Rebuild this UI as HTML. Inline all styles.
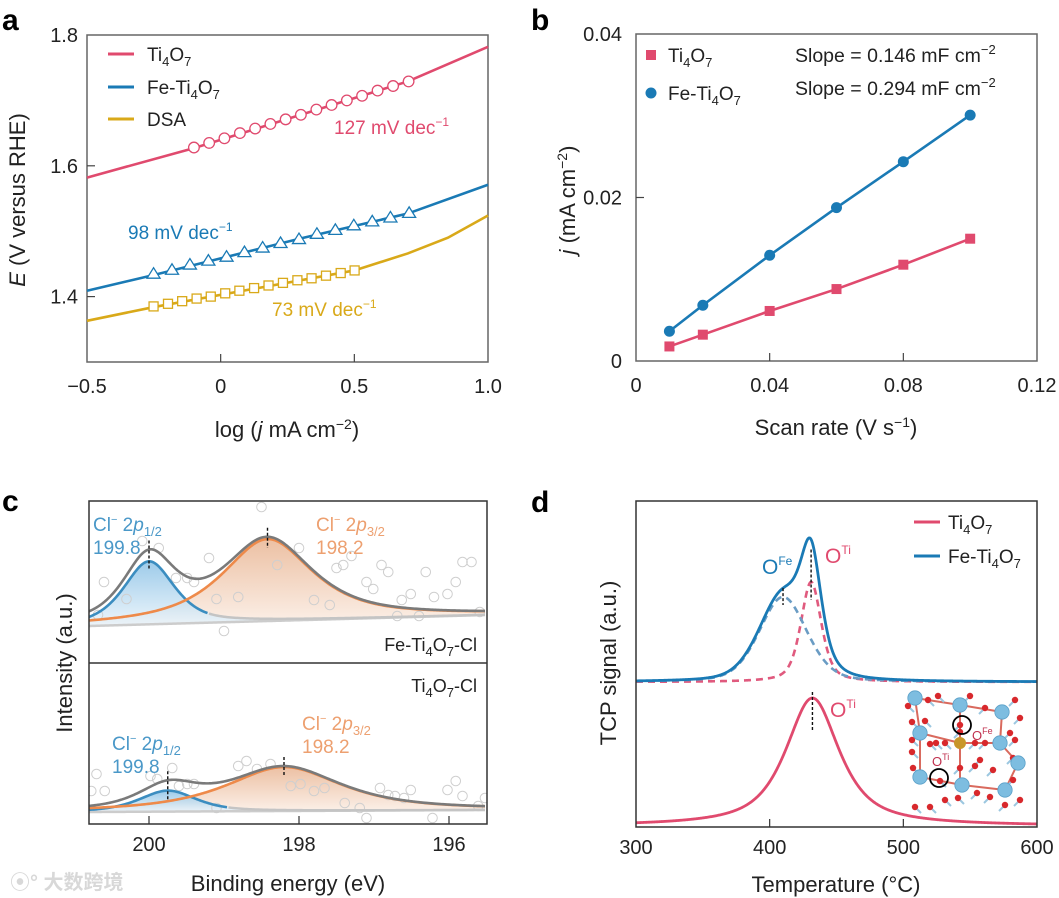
<!DOCTYPE html>
<html><head><meta charset="utf-8"><style>
html,body{margin:0;padding:0;background:#fff;}
svg{display:block;font-family:"Liberation Sans","Noto Sans CJK SC",sans-serif;}
</style></head><body>
<svg id="fig" width="1059" height="898" viewBox="0 0 1059 898" xmlns="http://www.w3.org/2000/svg">
<defs>
<linearGradient id="gBlue" x1="0" y1="0" x2="0" y2="1"><stop offset="0" stop-color="#8cc2e6"/><stop offset="1" stop-color="#eaf4fb"/></linearGradient>
<linearGradient id="gOr" x1="0" y1="0" x2="0" y2="1"><stop offset="0" stop-color="#e9b593"/><stop offset="1" stop-color="#fbeee5"/></linearGradient>
</defs>
<g id="root"></g>
</svg>
<script>
// ---------- Panel a data ----------
const aTiX=[-0.10,-0.043,0.014,0.072,0.129,0.186,0.243,0.300,0.358,0.415,0.472,0.529,0.587,0.645,0.703];
const aTiY=[1.628,1.635,1.642,1.650,1.657,1.664,1.671,1.678,1.686,1.693,1.700,1.707,1.715,1.722,1.729];
const aFeX=[-0.251,-0.182,-0.115,-0.046,0.022,0.089,0.157,0.224,0.293,0.360,0.429,0.498,0.567,0.635,0.705];
const aFeY=[1.435,1.441,1.449,1.455,1.461,1.468,1.475,1.482,1.488,1.496,1.502,1.509,1.515,1.521,1.528];
const aDsaX=[-0.251,-0.197,-0.144,-0.090,-0.037,0.017,0.070,0.125,0.179,0.233,0.287,0.340,0.394,0.449,0.501];
const aDsaY=[1.385,1.389,1.393,1.397,1.400,1.405,1.409,1.413,1.417,1.421,1.425,1.428,1.432,1.436,1.440];
const aTiFitX=[-0.5,-0.1,0.3,0.7,1.0], aTiFitY=[1.582,1.627,1.678,1.729,1.782];
const aFeFitX=[-0.5,-0.25,0.3,0.7,1.0], aFeFitY=[1.409,1.433,1.489,1.527,1.571];
const aDsaFitX=[-0.5,-0.25,0.5,0.7,0.85,1.0], aDsaFitY=[1.363,1.384,1.440,1.466,1.490,1.524];
const aXTicks=[-0.5,0,0.5,1.0], aXTickLabels=["\u22120.5","0","0.5","1.0"];
const aYTicks=[1.8,1.6,1.4], aYTickLabels=["1.8","1.6","1.4"];
// ---------- Panel b data ----------
const bX=[0.01,0.02,0.04,0.06,0.08,0.10];
const bTi=[0.00178,0.00322,0.00612,0.0088,0.01178,0.01496];
const bFe=[0.00364,0.00682,0.01293,0.01876,0.02438,0.03008];
const bXTicks=[0,0.04,0.08,0.12], bXTickLabels=["0","0.04","0.08","0.12"];
const bYTicks=[0,0.02,0.04], bYTickLabels=["0","0.02","0.04"];
// ---------- Panel c data ----------
const cTopBg=[37,48];
const cTopCenters=[200.0,198.42], cTopHeights=[63,82], cTopWidths=[0.4,0.72], cTopEta=[0.6,0.8];
const cBotBg=[12,14];
const cBotCenters=[199.75,198.2], cBotHeights=[21,44], cBotWidths=[0.45,0.92], cBotEta=[0.6,0.8];
const cTopPtsX=[200.60,200.30,200.68,200.09,199.87,199.64,199.49,199.40,199.20,199.10,198.81,199.00,198.50,198.29,198.00,197.80,197.59,197.50,197.41,197.30,197.10,197.01,196.90,196.81,196.63,196.51,196.31,196.20,196.02,195.91,195.82,195.70,195.59,196.69,196.40];
const cTopPtsY=[81,64,48,122,115,85,85,81,105,64,66,32,156,98,115,63,58,95,98,107,81,74,98,91,63,69,91,66,69,81,101,101,51,47,47];
const cBotPtsX=[200.70,200.77,200.59,199.98,199.89,199.69,199.60,199.49,199.40,199.10,198.81,198.70,198.56,198.38,198.11,197.98,197.80,197.66,197.39,197.19,197.10,196.92,196.81,196.72,196.60,196.51,196.22,196.02,195.91,195.82,195.61,195.52];
const cBotPtsY=[50,33,33,48,45,56,38,40,40,16,58,63,55,60,38,40,33,36,21,16,6,36,29,28,26,34,6,34,43,28,18,26];
const cXTicks=[200,198,196], cXTickLabels=["200","198","196"];
// ---------- Panel d data ----------
const dFeCenters=[410,431], dFeHeights=[85,100], dFeWidths=[21,9], dFeEta=[0.3,0.5];
const dTiCenter=[432], dTiHeight=[128], dTiWidth=[24], dTiEta=[0.8];
const dXTicks=[300,400,500,600], dXTickLabels=["300","400","500","600"];

// ---------- helpers ----------
const NS="http://www.w3.org/2000/svg";
const root=document.getElementById('root');
function mk(tag,attrs,parent){const e=document.createElementNS(NS,tag);for(const k in attrs)e.setAttribute(k,attrs[k]);(parent||root).appendChild(e);return e;}
function lin(d0,d1,p0,p1){return v=>p0+(v-d0)/(d1-d0)*(p1-p0);}
function pv(x,c,w,eta){const u=(x-c)/w;return eta/(1+u*u)+(1-eta)*Math.exp(-Math.LN2*u*u);}
function pathD(xs,ys){return xs.map((x,i)=>(i?'L':'M')+x.toFixed(2)+','+ys[i].toFixed(2)).join(' ');}
function txt(x,y,s,opt){opt=opt||{};const t=mk('text',{x:x,y:y,'font-size':opt.size||19,fill:opt.fill||'#222','text-anchor':opt.anchor||'start'});if(opt.weight)t.setAttribute('font-weight',opt.weight);if(opt.rot)t.setAttribute('transform','rotate(-90 '+x+' '+y+')');if(opt.html)t.innerHTML=s;else t.textContent=s;return t;}

// ========== Panel a ==========
const ax=lin(-0.5,1.0,87,488), ay=lin(1.3,1.8,362,35);
let t=txt(2,30,'a',{size:30,weight:'bold',fill:'#000'});
mk('rect',{x:87,y:35,width:401,height:327,fill:'none',stroke:'#666','stroke-width':1.5});
aXTicks.forEach((v,i)=>{if(i>0&&i<aXTicks.length-1)mk('line',{x1:ax(v),x2:ax(v),y1:362,y2:354,stroke:'#444','stroke-width':1.2});
 const l=txt(ax(v),393,aXTickLabels[i],{size:20,anchor:'middle'});});
aYTicks.forEach((v,i)=>{if(i>0)mk('line',{x1:87,x2:95,y1:ay(v),y2:ay(v),stroke:'#444','stroke-width':1.2});
 const l=txt(78,ay(v)+7,aYTickLabels[i],{size:20,anchor:'end'});});
t=txt(287,437,'log (<tspan font-style="italic">j</tspan> mA cm<tspan dy="-8" font-size="14">\u22122</tspan><tspan dy="8">)</tspan>',{size:22,anchor:'middle',html:true});
t=txt(25,200,'<tspan font-style="italic">E</tspan> (V versus RHE)',{size:22,anchor:'middle',rot:true,html:true});
const aSeries=[[aTiFitX,aTiFitY,aTiX,aTiY,'#e04a6e','circle','ti4o7'],[aFeFitX,aFeFitY,aFeX,aFeY,'#1a7ab5','tri','fe-ti4o7'],[aDsaFitX,aDsaFitY,aDsaX,aDsaY,'#d9a919','sq','dsa']];
aSeries.forEach(s=>{
 const p=mk('path',{d:pathD(s[0].map(ax),s[1].map(ay)),fill:'none',stroke:s[4],'stroke-width':2.6});
 
 s[2].forEach((x,i)=>{const cx=ax(x),cy=ay(s[3][i]);let m;
  if(s[5]=='circle')m=mk('circle',{cx:cx,cy:cy,r:5.3,fill:'#fff',stroke:s[4],'stroke-width':1.3});
  else if(s[5]=='tri')m=mk('path',{d:`M${cx},${cy-6} L${cx+6.5},${cy+4.5} L${cx-6.5},${cy+4.5}Z`,fill:'#fff',stroke:s[4],'stroke-width':1.3});
  else m=mk('rect',{x:cx-4.5,y:cy-4.5,width:9,height:9,fill:'#fff',stroke:s[4],'stroke-width':1.3});
  });
});
[['#e04a6e','Ti<tspan dy="5" font-size="13">4</tspan><tspan dy="-5">O</tspan><tspan dy="5" font-size="13">7</tspan>',54],['#1a7ab5','Fe-Ti<tspan dy="5" font-size="13">4</tspan><tspan dy="-5">O</tspan><tspan dy="5" font-size="13">7</tspan>',87],['#d9a919','DSA',119]].forEach(l=>{
 const e=mk('line',{x1:108,x2:134,y1:l[2],y2:l[2],stroke:l[0],'stroke-width':3});
 const tt=txt(147,l[2]+7,l[1],{size:19,html:true});});
t=txt(334,134,'127 mV dec<tspan dy="-8" font-size="12">\u22121</tspan>',{size:19,fill:'#e04a6e',html:true});
t=txt(128,239,'98 mV dec<tspan dy="-8" font-size="12">\u22121</tspan>',{size:19,fill:'#1a7ab5',html:true});
t=txt(272,316,'73 mV dec<tspan dy="-8" font-size="12">\u22121</tspan>',{size:19,fill:'#d9a919',html:true});

// ========== Panel b ==========
const bx=lin(0,0.12,636,1037), by=lin(0,0.04,361,34);
t=txt(531,30,'b',{size:30,weight:'bold',fill:'#000'});
mk('rect',{x:636,y:34,width:401,height:327,fill:'none',stroke:'#666','stroke-width':1.5});
bXTicks.forEach((v,i)=>{if(i>0&&i<bXTicks.length-1)mk('line',{x1:bx(v),x2:bx(v),y1:361,y2:353,stroke:'#444','stroke-width':1.2});
 const l=txt(bx(v),392,bXTickLabels[i],{size:20,anchor:'middle'});});
bYTicks.forEach((v,i)=>{if(i==1)mk('line',{x1:636,x2:644,y1:by(v),y2:by(v),stroke:'#444','stroke-width':1.2});
 const l=txt(622,by(v)+7,bYTickLabels[i],{size:20,anchor:'end'});});
t=txt(836,435,'Scan rate (V s<tspan dy="-8" font-size="14">\u22121</tspan><tspan dy="8">)</tspan>',{size:22,anchor:'middle',html:true});
t=txt(575,200,'<tspan font-style="italic">j</tspan> (mA cm<tspan dy="-8" font-size="14">\u22122</tspan><tspan dy="8">)</tspan>',{size:22,anchor:'middle',rot:true,html:true});
[[bTi,'#e04a6e','sq','ti4o7'],[bFe,'#1a7ab5','circle','fe-ti4o7']].forEach(s=>{
 const p=mk('path',{d:pathD(bX.map(bx),s[0].map(by)),fill:'none',stroke:s[1],'stroke-width':2.6});
 
 bX.forEach((x,i)=>{const cx=bx(x),cy=by(s[0][i]);let m;
  if(s[2]=='sq')m=mk('rect',{x:cx-5,y:cy-5,width:10,height:10,fill:s[1]});else m=mk('circle',{cx:cx,cy:cy,r:5.5,fill:s[1]});
  });
});
let e=mk('rect',{x:646,y:50,width:10,height:10,fill:'#e04a6e'});
e=mk('circle',{cx:651,cy:93,r:5.5,fill:'#1a7ab5'});
t=txt(668,62,'Ti<tspan dy="5" font-size="13">4</tspan><tspan dy="-5">O</tspan><tspan dy="5" font-size="13">7</tspan>',{size:19,html:true});
t=txt(668,100,'Fe-Ti<tspan dy="5" font-size="13">4</tspan><tspan dy="-5">O</tspan><tspan dy="5" font-size="13">7</tspan>',{size:19,html:true});
t=txt(795,62,'Slope = 0.146 mF cm<tspan dy="-8" font-size="13">\u22122</tspan>',{size:19.5,html:true});
t=txt(795,95,'Slope = 0.294 mF cm<tspan dy="-8" font-size="13">\u22122</tspan>',{size:19.5,html:true});

// ========== Panel c ==========
const cx=lin(200,198,149,299);
const cXs=[];for(let v=200.8;v>=195.5;v-=0.02)cXs.push(v);
const cBottom=824;
function drawXps(bottom,bg,cen,hts,wid,eta,ptsX,ptsY,name){
 const cy=v=>bottom-v;
 const bgf=x=>bg[0]+(x-200.8)/(195.5-200.8)*(bg[1]-bg[0]);
 const comp=(k,x)=>hts[k]*pv(x,cen[k],wid[k],eta[k]);
 const px=cXs.map(cx);
 const base=cXs.map(x=>cy(bgf(x)));
 const blue=cXs.map(x=>cy(bgf(x)+comp(0,x)));
 const oran=cXs.map(x=>cy(bgf(x)+comp(1,x)));
 const env=cXs.map(x=>cy(bgf(x)+comp(0,x)+comp(1,x)));
 const rev=(a)=>a.map((y,i)=>[px[i],y]).reverse().map(p=>'L'+p[0].toFixed(2)+','+p[1].toFixed(2)).join(' ');
 let f=mk('path',{d:pathD(px,oran)+' '+rev(base)+'Z',fill:'url(#gOr)',opacity:0.85});
 f=mk('path',{d:pathD(px,blue)+' '+rev(base)+'Z',fill:'url(#gBlue)',opacity:0.85});
 ptsX.forEach((x,i)=>{const m=mk('circle',{cx:cx(x),cy:cy(ptsY[i]),r:4.8,fill:'none',stroke:'#cfcfcf','stroke-width':1});});
 let l=mk('path',{d:pathD(px,base),fill:'none',stroke:'#cccccc','stroke-width':2.5});
 l=mk('path',{d:pathD(px.filter((p,i)=>cXs[i]<cen[0]-0.8),blue.filter((p,i)=>cXs[i]<cen[0]-0.8)),fill:'none',stroke:'#c4c4c4','stroke-width':2.5});
 l=mk('path',{d:pathD(px.filter((p,i)=>cXs[i]>=cen[0]-0.8),blue.filter((p,i)=>cXs[i]>=cen[0]-0.8)),fill:'none',stroke:'#3b8dc0','stroke-width':2.6});
 l=mk('path',{d:pathD(px,oran),fill:'none',stroke:'#ee8a4a','stroke-width':2.6});
 l=mk('path',{d:pathD(px,env),fill:'none',stroke:'#7a7a7a','stroke-width':2.6});
 cen.forEach((c,k)=>{const yy=cy(bgf(c)+comp(0,c)+comp(1,c));const d=mk('line',{x1:cx(c),x2:cx(c),y1:yy-9,y2:cy(bgf(c)+comp(k,c))+9,stroke:'#111','stroke-width':1.4,'stroke-dasharray':'3,2'});});
}
drawXps(663,cTopBg,cTopCenters,cTopHeights,cTopWidths,cTopEta,cTopPtsX,cTopPtsY,'fe-ti4o7-cl');
drawXps(cBottom,cBotBg,cBotCenters,cBotHeights,cBotWidths,cBotEta,cBotPtsX,cBotPtsY,'ti4o7-cl');
mk('rect',{x:0,y:490,width:89,height:345,fill:'#fff'});mk('rect',{x:487,y:490,width:40,height:345,fill:'#fff'});mk('rect',{x:89,y:470,width:398,height:31,fill:'#fff'});
t=txt(2,511,'c',{size:30,weight:'bold',fill:'#000'});
mk('rect',{x:89,y:501,width:398,height:cBottom-501,fill:'none',stroke:'#333','stroke-width':1.5});
mk('line',{x1:89,x2:487,y1:663,y2:663,stroke:'#333','stroke-width':1.5});
cXTicks.forEach((v,i)=>{mk('line',{x1:cx(v),x2:cx(v),y1:cBottom,y2:cBottom-8,stroke:'#333','stroke-width':1.2});
 const l=txt(cx(v),851,cXTickLabels[i],{size:20,anchor:'middle'});});
t=txt(288,891,'Binding energy (eV)',{size:22,anchor:'middle'});
t=txt(72,663,'Intensity (a.u.)',{size:22,anchor:'middle',rot:true});
const clB='#4a98c8', clO='#eda070';
[[93,531,clB,'1/2','199.8'],[316,531,clO,'3/2','198.2'],[112,750,clB,'1/2','199.8'],[302,730,clO,'3/2','198.2']].forEach(a=>{
 const l=txt(a[0],a[1],'Cl<tspan dy="-8" font-size="11">\u2212</tspan><tspan dy="8"> 2</tspan><tspan font-style="italic">p</tspan><tspan dy="5" font-size="13">'+a[3]+'</tspan>',{size:19,fill:a[2],html:true});
 const n=txt(a[0],a[1]+23,a[4],{size:19,fill:a[2]});});
t=txt(477,651,'Fe-Ti<tspan dy="5" font-size="13">4</tspan><tspan dy="-5">O</tspan><tspan dy="5" font-size="13">7</tspan><tspan dy="-5">-Cl</tspan>',{size:18,anchor:'end',html:true});
t=txt(477,692,'Ti<tspan dy="5" font-size="13">4</tspan><tspan dy="-5">O</tspan><tspan dy="5" font-size="13">7</tspan><tspan dy="-5">-Cl</tspan>',{size:18,anchor:'end',html:true});
t=txt(10,889,'\u29bf\u00b0 大数跨境',{size:20,fill:'#d8d8d8',weight:'bold'});

// ========== Panel d ==========
const dx=lin(300,600,636,1037);
const dXs=[];for(let v=300;v<=600;v+=0.5)dXs.push(v);
t=txt(531,512,'d',{size:30,weight:'bold',fill:'#000'});
const topBase=682, botBase=826;
const fe0=x=>dFeHeights[0]*pv(x,dFeCenters[0],dFeWidths[0],dFeEta[0]);
const fe1=x=>dFeHeights[1]*pv(x,dFeCenters[1],dFeWidths[1],dFeEta[1]);
const ti=x=>dTiHeight[0]*pv(x,dTiCenter[0],dTiWidth[0],dTiEta[0]);
const pxd=dXs.map(dx);
let l=mk('path',{d:pathD(pxd,dXs.map(x=>topBase-fe1(x))),fill:'none',stroke:'#e05a7e','stroke-width':2.6,'stroke-dasharray':'7,5'});
l=mk('path',{d:pathD(pxd,dXs.map(x=>topBase-fe0(x))),fill:'none',stroke:'#6a9cc4','stroke-width':2.6,'stroke-dasharray':'7,5'});
l=mk('path',{d:pathD(pxd,dXs.map(x=>topBase-fe0(x)-fe1(x))),fill:'none',stroke:'#1a7ab5','stroke-width':2.8});
l=mk('path',{d:pathD(pxd,dXs.map(x=>botBase-ti(x))),fill:'none',stroke:'#e04a6e','stroke-width':2.8});
[[dFeCenters[0],topBase-fe0(dFeCenters[0])-fe1(dFeCenters[0]),topBase-fe0(dFeCenters[0])],[dFeCenters[1],topBase-fe0(dFeCenters[1])-fe1(dFeCenters[1])+10,topBase-fe1(dFeCenters[1])+10],[dTiCenter[0],botBase-ti(dTiCenter[0])-6,botBase-ti(dTiCenter[0])+25]].forEach(m=>{
 const d=mk('line',{x1:dx(m[0]),x2:dx(m[0]),y1:m[1],y2:m[2]+8,stroke:'#111','stroke-width':1.4,'stroke-dasharray':'3,2'});});
const ins=mk('g',{});
const blueAt=[[915,698],[960,705],[1002,712],[920,733],[1000,743],[1018,763],[920,777],[962,785],[1005,790]];
const redAt=[[908,706],[928,700],[938,696],[970,696],[985,708],[1015,700],[1020,718],[912,722],[925,721],[930,744],[912,752],[960,725],[960,732],[945,743],[936,743],[975,743],[985,743],[1010,733],[1015,740],[980,760],[993,770],[1013,780],[960,768],[975,766],[913,768],[940,781],[945,800],[958,798],[977,793],[990,797],[1005,805],[1020,800],[930,807],[915,807],[1013,758],[912,740]];
[[915,698,960,705],[960,705,1002,712],[920,733,960,743],[960,743,1000,743],[960,705,960,743],[960,743,960,785],[920,777,962,785],[962,785,1005,790],[915,698,920,733],[1002,712,1000,743],[1000,743,1018,763],[920,733,920,777],[1005,790,1018,763]].forEach(s=>mk('line',{x1:s[0],y1:s[1],x2:s[2],y2:s[3],stroke:'#d96a5e','stroke-width':2},ins));
redAt.forEach(p=>mk('line',{x1:p[0],y1:p[1],x2:p[0]+(p[0]<960?6:-6),y2:p[1]+6,stroke:'#9cc7e0','stroke-width':2},ins));
redAt.forEach(p=>mk('circle',{cx:p[0],cy:p[1],r:3.2,fill:'#d8282c'},ins));
blueAt.forEach(p=>mk('circle',{cx:p[0],cy:p[1],r:7.2,fill:'#7dbde0',stroke:'#5aa0c8','stroke-width':0.8},ins));
mk('circle',{cx:960,cy:743,r:6,fill:'#c8962a'},ins);
mk('circle',{cx:962,cy:725,r:9,fill:'none',stroke:'#000','stroke-width':1.8},ins);
mk('circle',{cx:939,cy:778,r:9,fill:'none',stroke:'#000','stroke-width':1.8},ins);
mk('text',{x:972,y:740,'font-size':13,fill:'#c0304e'},ins).innerHTML='O<tspan dy="-6" font-size="9">Fe</tspan>';
mk('text',{x:932,y:766,'font-size':13,fill:'#c0304e'},ins).innerHTML='O<tspan dy="-6" font-size="9">Ti</tspan>';
mk('rect',{x:636,y:501,width:401,height:326,fill:'none',stroke:'#333','stroke-width':1.5});
dXTicks.forEach((v,i)=>{if(i>0&&i<dXTicks.length-1)mk('line',{x1:dx(v),x2:dx(v),y1:827,y2:819,stroke:'#333','stroke-width':1.2});
 const ll=txt(dx(v),854,dXTickLabels[i],{size:20,anchor:'middle'});});
t=txt(836,892,'Temperature (\u00b0C)',{size:22,anchor:'middle'});
t=txt(616,663,'TCP signal (a.u.)',{size:22,anchor:'middle',rot:true});
t=txt(762,574,'O<tspan dy="-9" font-size="12">Fe</tspan>',{size:21,fill:'#1a7ab5',html:true});
t=txt(825,563,'O<tspan dy="-9" font-size="12">Ti</tspan>',{size:21,fill:'#e04a6e',html:true});
t=txt(830,717,'O<tspan dy="-9" font-size="12">Ti</tspan>',{size:21,fill:'#e04a6e',html:true});
e=mk('line',{x1:914,x2:940,y1:522,y2:522,stroke:'#e04a6e','stroke-width':3});
e=mk('line',{x1:914,x2:940,y1:556,y2:556,stroke:'#1a7ab5','stroke-width':3});
t=txt(948,529,'Ti<tspan dy="5" font-size="13">4</tspan><tspan dy="-5">O</tspan><tspan dy="5" font-size="13">7</tspan>',{size:19,html:true});
t=txt(948,563,'Fe-Ti<tspan dy="5" font-size="13">4</tspan><tspan dy="-5">O</tspan><tspan dy="5" font-size="13">7</tspan>',{size:19,html:true});
</script>
</body></html>
